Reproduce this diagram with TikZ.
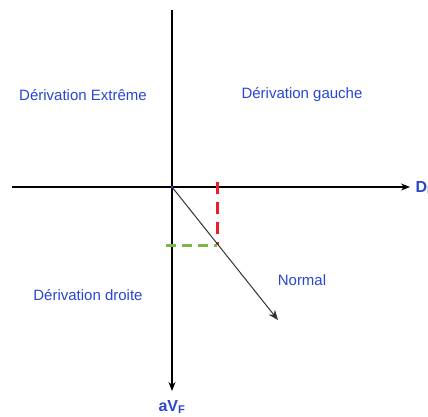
\documentclass[tikz,border=0pt]{standalone}
\usepackage{fontspec}
\setmainfont{Liberation Sans}
\usetikzlibrary{arrows.meta}
\definecolor{lblue}{RGB}{40,70,210}
\definecolor{dred}{RGB}{235,30,35}
\definecolor{dgreen}{RGB}{120,185,70}
\tikzset{
  axis/.style={line width=1.1pt,-{Stealth[length=9pt,width=7pt]}},
  lbl/.style={text=lblue,font=\fontsize{15}{17}\selectfont},
  axlbl/.style={text=lblue,font=\bfseries\fontsize{16}{18}\selectfont},
}
\begin{document}
\begin{tikzpicture}[x=1pt,y=-1pt]
\useasboundingbox (0,0) rectangle (428,416);
\clip (0,0) rectangle (428,416);
\coordinate (O) at (172,187);
\coordinate (L) at (12,187);
\coordinate (R) at (410,187);
\coordinate (T) at (172,10);
\coordinate (B) at (172,391);
\coordinate (N) at (278,320);
\coordinate (rt) at (217,182);
\coordinate (P) at (217,245);
\coordinate (gl) at (166,245);
\draw[axis] (L) -- (R);
\draw[axis] (T) -- (B);
\draw[line width=3pt,dred,dash pattern=on 12pt off 8pt] (rt) -- (P);
\draw[line width=3pt,dgreen,dash pattern=on 10pt off 6pt] (gl) -- (P);
\draw[line width=1pt,black!80,-{Stealth[length=10pt,width=8pt]}] (O) -- (N);
\fill[lblue] (O) circle (1.5pt);
\node[axlbl,anchor=west] (dl) at (412,188) {D\textsubscript{I}};
\node[axlbl] (av) at (172,407) {aV\textsubscript{F}};
\node[lbl] (de) at (83,95) {Dérivation Extrême};
\node[lbl] (dg) at (302,95) {Dérivation gauche};
\node[lbl] (dd) at (88,295) {Dérivation droite};
\node[lbl] (nm) at (302,280) {Normal};
\end{tikzpicture}
\end{document}
